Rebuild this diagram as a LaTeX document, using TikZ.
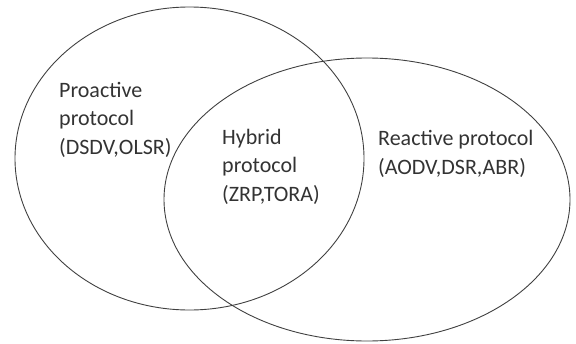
\documentclass[tikz,border=0pt]{standalone}
\usepackage{fontspec}
\setmainfont{Carlito}
\usepackage{tikz}

\begin{document}
\begin{tikzpicture}[x=1pt,y=-1pt]
\useasboundingbox (0,0) rectangle (576,343);
\tikzset{lbl/.style={anchor=base west,inner sep=0pt,align=left,text=black!80,
  font=\fontsize{22}{28.5}\selectfont}}

\path (189.5,158.5) coordinate(P);
\path (367,199.5) coordinate(R);

\draw [black!75, line width=0.9pt] (P) ellipse [x radius=174.5, y radius=151.5];
\draw [black!75, line width=0.9pt] (R) ellipse [x radius=203, y radius=141.5];

% labels anchored at the baseline of their last line
\node[lbl] (pro) at (59,154) {Proactive\\protocol\\(DSDV,OLSR)};
\node[lbl] (hyb) at (222,201) {Hybrid\\protocol\\(ZRP,TORA)};
\node[lbl] (rea) at (378,174) {Reactive protocol\\(AODV,DSR,ABR)};
\end{tikzpicture}
\end{document}
